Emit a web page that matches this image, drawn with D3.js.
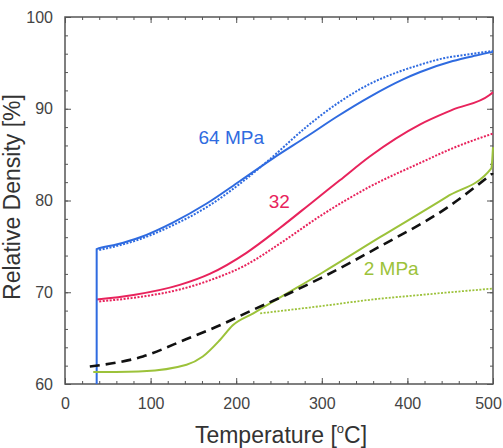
<!DOCTYPE html>
<html>
<head>
<meta charset="utf-8">
<script src="https://cdn.jsdelivr.net/npm/d3@7"></script>
<style>
  body { margin: 0; background: #fff; }
  text { font-family: "Liberation Sans", Arial, sans-serif; }
</style>
</head>
<body>
<div id="chart"></div>
<script>
// temperatures [C] and relative densities [%]
const blueSolidT = [37, 37, 60, 88, 126, 166, 204, 243, 283, 317, 356, 395, 415, 453, 480, 500]
const blueSolidV = [60, 74.7, 75.2, 76.0, 77.6, 79.7, 82.1, 84.6, 87.0, 89.1, 91.3, 93.2, 94.0, 95.2, 95.8, 96.2]
const blueDotT = [40, 88, 126, 166, 204, 243, 283, 317, 356, 395, 415, 442, 470, 500]
const blueDotV = [74.6, 75.8, 77.3, 79.3, 81.8, 84.8, 88.1, 90.5, 92.7, 94.2, 94.8, 95.5, 95.9, 96.3]
const redSolidT = [37, 80, 134, 169, 212, 251, 290, 321, 356, 415, 453, 496, 500]
const redSolidV = [69.2, 69.7, 70.8, 72.0, 74.3, 77.0, 79.9, 82.2, 84.8, 88.3, 89.9, 91.5, 91.8]
const redDotT = [40, 80, 134, 169, 212, 251, 298, 356, 415, 453, 500]
const redDotV = [69.0, 69.4, 70.3, 71.3, 73.0, 75.3, 78.3, 81.5, 84.1, 85.7, 87.3]
const greenSolidT = [33, 91, 142, 161, 181, 196, 220, 247, 300, 368, 446, 498, 500]
const greenSolidV = [61.3, 61.4, 62.1, 63.0, 64.8, 66.4, 67.7, 69.2, 72.1, 76.0, 80.4, 83.5, 85.8]
const greenDotT = [228, 300, 368, 403, 450, 500]
const greenDotV = [67.7, 68.5, 69.3, 69.6, 70.0, 70.4]
const fitT = [29, 91, 142, 181, 220, 251, 300, 368, 446, 500]
const fitV = [61.9, 63.0, 64.9, 66.4, 68.1, 69.4, 71.6, 75.0, 79.2, 83.0]

const xTicks = [0, 100, 200, 300, 400, 500]
const yTicks = [60, 70, 80, 90, 100]

const W = 503, H = 448
const margin = { top: 17, right: 10, bottom: 64, left: 65 }
const w = W - margin.left - margin.right
const h = H - margin.top - margin.bottom

const x = d3.scaleLinear().domain([0, 500]).range([0, w])
const y = d3.scaleLinear().domain([60, 100]).range([h, 0])

const svg = d3.select('#chart').append('svg')
  .attr('width', W)
  .attr('height', H)

const g = svg.append('g')
  .attr('transform', 'translate(' + margin.left + ',' + margin.top + ')')

const axisColor = '#555'

// ticks inside on all four sides
function ticksStyle (sel) {
  sel.select('.domain').remove()
  sel.selectAll('.tick line').attr('stroke', axisColor)
  sel.selectAll('.tick text').attr('fill', '#444').style('font-size', '16px')
}
const xMinor = d3.range(0, 501, 20)
const yMinor = d3.range(60, 101, 2)

g.append('g').attr('transform', 'translate(0,' + h + ')')
  .call(d3.axisBottom(x).tickValues(xMinor).tickSize(-3).tickFormat(''))
  .call(ticksStyle)
g.append('g').attr('transform', 'translate(0,' + h + ')')
  .call(d3.axisBottom(x).tickValues(xTicks).tickSize(-6).tickPadding(14))
  .call(ticksStyle)
  .call(a => a.selectAll('.tick text').filter(d => d === 500).attr('dx', -5))
g.append('g')
  .call(d3.axisTop(x).tickValues(xMinor).tickSize(-3).tickFormat(''))
  .call(ticksStyle)
g.append('g')
  .call(d3.axisTop(x).tickValues(xTicks).tickSize(-6).tickFormat(''))
  .call(ticksStyle)
g.append('g')
  .call(d3.axisLeft(y).tickValues(yMinor).tickSize(-3).tickFormat(''))
  .call(ticksStyle)
g.append('g')
  .call(d3.axisLeft(y).tickValues(yTicks).tickSize(-6).tickPadding(12))
  .call(ticksStyle)
g.append('g').attr('transform', 'translate(' + w + ',0)')
  .call(d3.axisRight(y).tickValues(yMinor).tickSize(-3).tickFormat(''))
  .call(ticksStyle)
g.append('g').attr('transform', 'translate(' + w + ',0)')
  .call(d3.axisRight(y).tickValues(yTicks).tickSize(-6).tickFormat(''))
  .call(ticksStyle)

g.append('rect')
  .attr('width', w).attr('height', h)
  .attr('fill', 'none').attr('stroke', axisColor).attr('stroke-width', 1.5)

const line = d3.line()
  .x(d => x(d[0]))
  .y(d => y(d[1]))
  .curve(d3.curveMonotoneX)

const blue = '#2f6be0', red = '#e8235c', green = '#9cc23a'

const series = [
  { t: greenDotT, v: greenDotV, color: green, dash: '2,1.5', width: 1.8 },
  { t: redDotT, v: redDotV, color: red, dash: '2,1.5', width: 2 },
  { t: blueDotT, v: blueDotV, color: blue, dash: '2,1.5', width: 2 },
  { t: redSolidT, v: redSolidV, color: red, dash: null, width: 2 },
  { t: blueSolidT, v: blueSolidV, color: blue, dash: null, width: 2 },
  { t: greenSolidT, v: greenSolidV, color: green, dash: null, width: 2 },
  { t: fitT, v: fitV, color: '#111', dash: '10,6', width: 2.6 }
]

g.selectAll('.series')
  .data(series)
  .enter().append('path')
  .attr('class', 'series')
  .attr('d', s => line(s.t.map((t, i) => [t, s.v[i]])))
  .attr('fill', 'none')
  .attr('stroke', d => d.color)
  .attr('stroke-width', d => d.width)
  .attr('stroke-dasharray', d => d.dash)

// curve labels
g.append('text').attr('x', x(156)).attr('y', y(86.2)).attr('fill', blue)
  .style('font-size', '19px').text('64 MPa')
g.append('text').attr('x', x(238)).attr('y', y(79.2)).attr('fill', red)
  .style('font-size', '19px').text('32')
g.append('text').attr('x', x(349)).attr('y', y(71.9)).attr('fill', green)
  .style('font-size', '19px').text('2 MPa')

// axis titles
const xt = svg.append('text')
  .attr('x', margin.left + w / 2 + 2)
  .attr('y', 443)
  .attr('text-anchor', 'middle')
  .attr('fill', '#333')
  .style('font-size', '23px')
xt.append('tspan').text('Temperature [')
xt.append('tspan').attr('dy', -10).style('font-size', '13px').text('o')
xt.append('tspan').attr('dy', 10).text('C]')

svg.append('text')
  .attr('transform', 'translate(20,197) rotate(-90)')
  .attr('text-anchor', 'middle')
  .attr('fill', '#333')
  .style('font-size', '23px')
  .text('Relative Density [%]')
</script>
</body>
</html>
